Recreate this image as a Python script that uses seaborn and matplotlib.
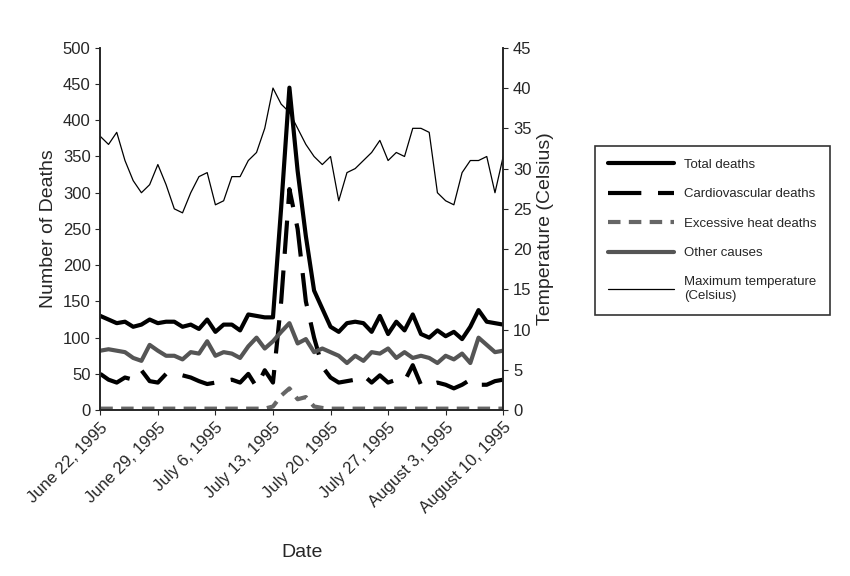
import matplotlib
matplotlib.use("Agg")
import matplotlib.pyplot as plt
import seaborn as sns
import pandas as pd
import numpy as np

dates = pd.date_range("1995-06-22", "1995-08-10", freq="D")
total = [130,125,120,122,115,118,125,120,122,122,115,118,112,125,108,118,118,110,132,130,
         128,128,280,445,330,240,165,140,115,108,120,122,120,108,130,105,122,110,132,105,
         100,110,102,108,98,115,138,122,120,118]
cardio = [50,42,38,45,42,55,40,38,50,50,48,45,40,36,38,40,42,38,50,32,
          55,38,150,305,250,150,100,60,45,38,40,42,48,38,48,38,42,40,62,35,
          35,38,35,30,35,42,35,35,40,42]
heat = [2]*21 + [5,20,30,15,18,5,3] + [2]*22
other = [82,84,82,80,72,68,90,82,75,75,70,80,78,95,75,80,78,72,88,100,
         85,95,108,120,92,98,80,85,80,75,65,75,68,80,78,85,72,80,72,75,
         72,65,75,70,78,65,100,90,80,82]
temp = [34,33,34.5,31,28.5,27,28,30.5,28,25,24.5,27,29,29.5,25.5,26,29,29,31,32,
        35,40,38,37,35,33,31.5,30.5,31.5,26,29.5,30,31,32,33.5,31,32,31.5,35,35,
        34.5,27,26,25.5,29.5,31,31,31.5,27,31.5]
tick_dates = pd.date_range("1995-06-22", "1995-08-10", freq="7D")
tick_labels = [d.strftime("%B %-d, %Y") for d in tick_dates]

sns.set_style("ticks")
plt.rcParams['font.family'] = ['Liberation Sans', 'DejaVu Sans']

fig = plt.figure(figsize=(8.5, 5.76), dpi=100)
ax = fig.add_axes([0.118, 0.288, 0.474, 0.629])
ax2 = ax.twinx()

df = pd.DataFrame({"date": dates, "total": total, "cardio": cardio, "heat": heat,
                   "other": other, "temp": temp})
sns.lineplot(data=df, x="date", y="total", ax=ax, color="black", lw=3, label="Total deaths")
sns.lineplot(data=df, x="date", y="cardio", ax=ax, color="black", lw=3, dashes=False,
             label="Cardiovascular deaths").lines[-1].set_dashes([8, 4])
sns.lineplot(data=df, x="date", y="heat", ax=ax, color="#666666", lw=3,
             label="Excessive heat deaths").lines[-1].set_dashes([3, 2])
sns.lineplot(data=df, x="date", y="other", ax=ax, color="#555555", lw=3, label="Other causes")
sns.lineplot(data=df, x="date", y="temp", ax=ax2, color="black", lw=0.9,
             label="Maximum temperature\n(Celsius)")

ax.set_ylim(0, 500)
ax.set_yticks(range(0, 501, 50))
ax2.set_ylim(0, 45)
ax2.set_yticks(range(0, 46, 5))
ax.set_xlim(dates[0], dates[-1])
ax.set_xticks(tick_dates)
ax.set_xticklabels(tick_labels, rotation=45, ha="right", rotation_mode="anchor", fontsize=12)
ax.tick_params(axis="y", labelsize=12)
ax2.tick_params(axis="y", labelsize=12)
ax.set_xlabel("Date", fontsize=14, labelpad=20)
ax.set_ylabel("Number of Deaths", fontsize=14)
ax2.set_ylabel("Temperature (Celsius)", fontsize=14)
for a in (ax, ax2):
    a.spines["top"].set_visible(False)
    for s in a.spines.values():
        s.set_linewidth(1.2)

h1, l1 = ax.get_legend_handles_labels()
h2, l2 = ax2.get_legend_handles_labels()
ax.get_legend().remove()
ax2.get_legend().remove()
leg = fig.legend(h1 + h2, l1 + l2, loc="center", bbox_to_anchor=(0.838, 0.6),
                 fontsize=9.5, frameon=True, fancybox=False, edgecolor="black",
                 handlelength=5, labelspacing=1.3, borderpad=1.0)
leg.get_frame().set_linewidth(1.2)

fig.savefig("out.png", dpi=100)
